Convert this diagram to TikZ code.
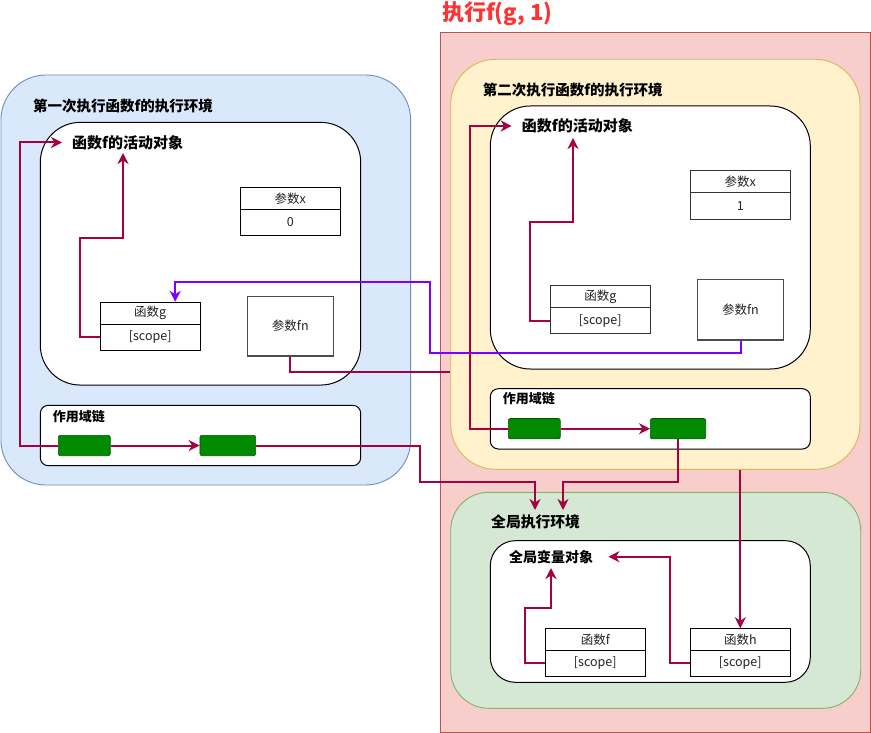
\documentclass[tikz,border=0pt]{standalone}
\usepackage{fontspec}
\setmainfont{Noto Sans CJK SC}
\usetikzlibrary{arrows.meta,calc}
\definecolor{bluefill}{HTML}{DAE8FC}
\definecolor{bluestroke}{HTML}{6C8EBF}
\definecolor{yelfill}{HTML}{FFF2CC}
\definecolor{yelstroke}{HTML}{D6B656}
\definecolor{grnfill}{HTML}{D5E8D4}
\definecolor{grnstroke}{HTML}{82B366}
\definecolor{redfill}{HTML}{F8CECC}
\definecolor{redstroke}{HTML}{B85450}
\definecolor{crim}{HTML}{A50040}
\definecolor{purp}{HTML}{7F00FF}
\definecolor{gbfill}{HTML}{008A00}
\definecolor{gbstroke}{HTML}{005700}
\definecolor{redtxt}{HTML}{FF3333}
\definecolor{labtxt}{HTML}{222222}
\tikzset{
  envbox/.style={line width=0.9pt, inner sep=0pt, rounded corners=45pt},
  wbox/.style={draw=black, fill=white, line width=1pt, inner sep=0pt},
  cell/.style={draw=black, fill=white, line width=1pt, inner sep=0pt, minimum width=100pt,
    text=labtxt, font=\fontsize{12.5}{14}\selectfont},
  ttl/.style={anchor=west, inner sep=0pt, font=\bfseries\fontsize{#1}{16}\selectfont},
  ttl/.default=14,
  gbox/.style={fill=gbfill, draw=gbstroke, line width=0.6pt, rounded corners=2pt,
    inner sep=0pt, minimum height=20.4pt},
  conn/.style={draw=crim, line width=2pt, -{Stealth[length=11pt,width=11pt,inset=3.5pt]}},
  plainconn/.style={draw=crim, line width=2pt},
  pconn/.style={draw=purp, line width=2pt, -{Stealth[length=11pt,width=11pt,inset=3.5pt]}},
}
\begin{document}
\begin{tikzpicture}[x=1pt,y=-1pt]
\useasboundingbox (0,0) rectangle (871,733);
\fill[white] (0,0) rectangle (871,733);

% red execution frame
\node[draw=redstroke, fill=redfill, line width=0.9pt, inner sep=0pt,
  minimum width=430pt, minimum height=700pt] (redbox) at (655,382) {};
\node[anchor=west, inner sep=0pt, text=redtxt, font=\bfseries\fontsize{22}{26}\selectfont]
  (redT) at (442,13.5) {执行f(g, 1)};

% ---------- left: first execution environment ----------
\node[envbox, draw=bluestroke, fill=bluefill, minimum width=409.7pt, minimum height=410pt]
  (lenv) at (205.8,280) {};
\node[ttl=14.5] (lenvT) at (33,105.7) {第一次执行函数f的执行环境};
\node[wbox, rounded corners=40pt, minimum width=320.4pt, minimum height=262.7pt]
  (lact) at (200.5,253.7) {};
\node[ttl=15] (lactT) at (72,142.5) {函数f的活动对象};
\node[cell, minimum height=22pt] (lxT) at (290.3,198.3) {参数x};
\node[cell, minimum height=25.7pt] (lxV) at (290.3,222.2) {0};
\node[cell, minimum height=22pt] (lgT) at (150.2,313.3) {函数g};
\node[cell, minimum height=25.7pt] (lgS) at (150.2,337.2) {[scope]};
\node[cell, draw=black!70, line width=1.2pt, minimum width=86pt, minimum height=59.7pt] (lfn) at (290.3,326.2) {参数fn};
\node[wbox, rounded corners=8pt, minimum width=320.4pt, minimum height=60.4pt]
  (lch) at (200.5,435.5) {};
\node[ttl=13] (lchT) at (52.7,416.7) {作用域链};
\node[gbox, minimum width=52pt] (lg1) at (84.3,445.5) {};
\node[gbox, minimum width=55.7pt] (lg2) at (227.8,445.5) {};

% ---------- right: second execution environment ----------
\node[envbox, draw=yelstroke, fill=yelfill, minimum width=409.3pt, minimum height=410pt]
  (yenv) at (655.35,264.3) {};
\node[ttl=14.5] (yenvT) at (482.7,90) {第二次执行函数f的执行环境};
\node[wbox, rounded corners=40pt, minimum width=320pt, minimum height=263pt]
  (ract) at (650.3,237.5) {};
\node[ttl=15] (ractT) at (521.7,126) {函数f的活动对象};
\node[cell, draw=black!80, minimum height=22pt] (rxT) at (740.3,181.7) {参数x};
\node[cell, draw=black!80, minimum height=26.3pt] (rxV) at (740.3,205.9) {1};
\node[cell, draw=black!80, minimum height=22pt] (rgT) at (600.3,296.7) {函数g};
\node[cell, draw=black!80, minimum height=26pt] (rgS) at (600.3,320.7) {[scope]};
\node[cell, draw=black!70, line width=1.2pt, minimum width=85.6pt, minimum height=60.3pt] (rfn) at (740.5,309.85) {参数fn};
\node[wbox, rounded corners=8pt, minimum width=320pt, minimum height=60.3pt]
  (rch) at (650.3,418.85) {};
\node[ttl=13] (rchT) at (502.7,399) {作用域链};
\node[gbox, minimum width=52pt] (rg1) at (534.3,428.7) {};
\node[gbox, minimum width=55.4pt] (rg2) at (678,428.7) {};

% ---------- global execution environment ----------
\node[envbox, rounded corners=38pt, draw=grnstroke, fill=grnfill, minimum width=410pt, minimum height=216pt]
  (genv) at (655.7,600.3) {};
\node[ttl=14.8] (genvT) at (491,522.3) {全局执行环境};
\node[wbox, rounded corners=25pt, minimum width=320pt, minimum height=141.6pt]
  (gvo) at (650.3,611.5) {};
\node[ttl=14] (gvT) at (509,556.7) {全局变量对象};
\node[cell, minimum height=21.6pt] (gfT) at (595.3,639.5) {函数f};
\node[cell, minimum height=26pt] (gfS) at (595.3,663.3) {[scope]};
\node[cell, minimum height=21.6pt] (ghT) at (740.3,639.5) {函数h};
\node[cell, minimum height=26pt] (ghS) at (740.3,663.3) {[scope]};

% ---------- arrow targets ----------
\coordinate (lactA) at (123,153);
\coordinate (ractA) at (573,138);
\coordinate (gA) at (535,510);
\coordinate (gB) at (563,510);
\coordinate (gvA) at (551,568);

% ---------- connectors ----------
\draw[conn] (lg1.west) -- ++(-37.6,0) |- ([xshift=-10pt]lactT.west);
\draw[conn] (lg1.east) -- (lg2.west);
\draw[conn] (lg2.east) -| (420,482) -| (gA);
\draw[conn] (lgS.west) -| (80,238) -| (lactA);
\draw[plainconn] (lfn.south) |- ([yshift=-107.7pt]yenv.west);
\draw[pconn] (rfn.south) -- ++(0,12) -| (430,282) -| ([xshift=25pt]lgT.north);

\draw[conn] (rg1.west) -- ++(-38.3,0) |- ([xshift=-10pt]ractT.west);
\draw[conn] (rg1.east) -- (rg2.west);
\draw[conn] (rg2.south) |- (563,482) -- (gB);
\draw[conn] (rgS.west) -| (530,222) -| (ractA);
\draw[conn] (ghT.north |- yenv.south) -- (ghT.north);

\draw[conn] (gfS.west) -| (525,608) -| (gvA);
\draw[conn] (ghS.west) -| (670,556.7) -- ([xshift=15pt]gvT.east);
\end{tikzpicture}
\end{document}
